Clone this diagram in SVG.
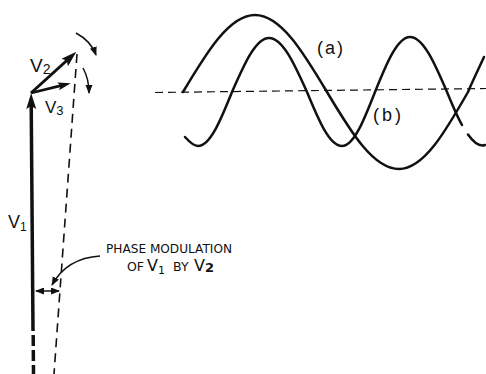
<svg xmlns="http://www.w3.org/2000/svg" width="486" height="374" viewBox="0 0 486 374">
<defs>
<style>
.txt{font-family:"Liberation Sans","DejaVu Sans",sans-serif;fill:#111}
.let{font-family:"DejaVu Sans","Liberation Sans",sans-serif;fill:#111}
.wave{fill:none;stroke:#111;stroke-width:2.5;stroke-linecap:round;stroke-linejoin:round}
.vec{fill:none;stroke:#111;stroke-linecap:butt}
.thin{fill:none;stroke:#111;stroke-width:1.5}
</style>
<marker id="head" markerUnits="userSpaceOnUse" markerWidth="17" markerHeight="11" refX="6" refY="5" orient="auto">
<path d="M0,0 L16,5 L0,10 L3,5 z" fill="#111"/>
</marker>
<marker id="headS" markerUnits="userSpaceOnUse" markerWidth="14" markerHeight="9" refX="5" refY="4" orient="auto">
<path d="M0,0 L13,4 L0,8 L2.5,4 z" fill="#111"/>
</marker>
<marker id="tip" markerUnits="userSpaceOnUse" markerWidth="10" markerHeight="8" refX="8" refY="3.5" orient="auto">
<path d="M0,0 L9,3.5 L0,7 z" fill="#111"/>
</marker>
<marker id="tipStart" markerUnits="userSpaceOnUse" markerWidth="10" markerHeight="8" refX="1" refY="3.5" orient="auto">
<path d="M9,0 L0,3.5 L9,7 z" fill="#111"/>
</marker>
</defs>
<rect width="486" height="374" fill="#fff"/>

<g id="axis">
<line x1="155" y1="92.5" x2="486" y2="88.5" stroke="#111" stroke-width="1.2" stroke-dasharray="8 5"/>
</g>

<g id="wave-a">
<path class="wave" d="M183,92 C206.5,52.6 229.1,15 255,15 C280.9,15 303.5,52.6 327,92 C350.5,131.4 373.1,169 399,169 C423.8,169 445.5,131.4 468,92 C473,80 479,68 484,57"/>
<text class="txt" x="317" y="54" font-size="18" textLength="26">(a)</text>
</g>

<g id="wave-b">
<path class="wave" d="M185,137 C189.5,142 193.5,146 198,146 C210.2,146 220.9,119.6 232,92 C244.1,64.4 255.7,38 269,38 C282.7,38 294.6,64.4 307,92 C318.4,119.6 329.4,146 342,146 C353.9,146 364.2,119.6 375,92 C386.4,63.8 397.4,37 410,37 C423.3,37 434.9,63.8 447,92 C452,104.1 457,116.3 462,125"/>
<path class="wave" d="M468,134.5 C473.7,142.5 479.3,147 485,145"/>
<text class="txt" x="373" y="121" font-size="18" textLength="28">(b)</text>
</g>

<g id="v1">
<line class="vec" x1="33" y1="331" x2="31.2" y2="103" stroke-width="3.5" marker-end="url(#head)"/>
<line class="vec" x1="33.2" y1="335" x2="33.5" y2="374" stroke-width="3.5" stroke-dasharray="11 4"/>
<text class="txt" x="8" y="228" font-size="18">V<tspan font-size="12" dy="3">1</tspan></text>
</g>

<g id="v2">
<line class="vec" x1="31" y1="93" x2="69" y2="58.5" stroke-width="3" marker-end="url(#head)"/>
<text class="txt" x="30" y="72" font-size="19">V<tspan font-size="14" dy="2">2</tspan></text>
</g>

<g id="v3">
<line class="vec" x1="31" y1="93" x2="63" y2="85.2" stroke-width="2.8" marker-end="url(#headS)"/>
<text class="txt" x="45" y="113" font-size="17">V<tspan font-size="13" dy="2">3</tspan></text>
</g>

<g id="resultant">
<line x1="77" y1="54" x2="54" y2="374" stroke="#111" stroke-width="1.6" stroke-dasharray="9 6"/>
</g>

<g id="rotation">
<path class="thin" d="M76,33 Q91,41 96,55" stroke-width="1.8" marker-end="url(#tip)"/>
<path class="thin" d="M83,68 Q89,79 89,93" stroke-width="1.8" marker-end="url(#tip)"/>
</g>

<g id="label-phase">
<text class="let" x="106" y="253" font-size="13" textLength="126" lengthAdjust="spacingAndGlyphs">PHASE MODULATION</text>
<text class="let" font-size="12.5"><tspan x="127" y="271">OF</tspan><tspan x="147" y="271" font-size="16">V</tspan><tspan x="158" y="274" font-size="11">1</tspan><tspan x="173" y="271">BY</tspan><tspan x="194" y="271" font-size="16">V</tspan><tspan x="205" y="272" font-size="13" font-weight="bold">2</tspan></text>
</g>

<g id="connectors">
<path class="thin" d="M100,256 Q67,258 52,285" marker-end="url(#tip)"/>
<line class="thin" x1="36" y1="291" x2="59" y2="291" marker-start="url(#tipStart)" marker-end="url(#tip)"/>
</g>
</svg>
